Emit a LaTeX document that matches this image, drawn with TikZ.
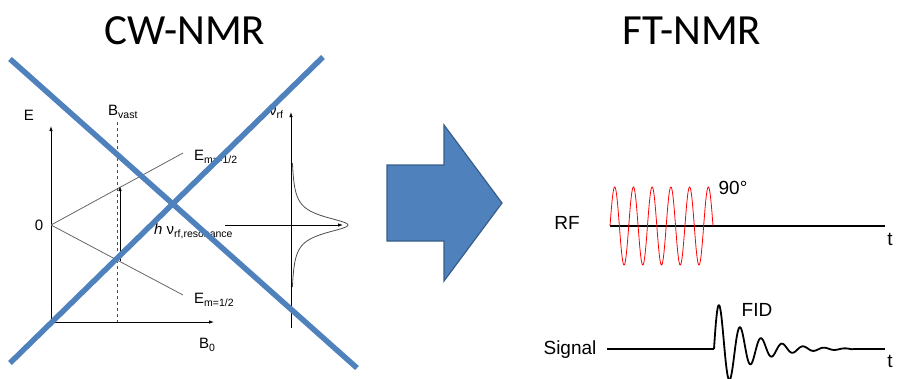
\documentclass[tikz,border=0pt]{standalone}
\usepackage{fontspec}
\setmainfont{Liberation Sans}
\newfontfamily\titlefont{Carlito}
\usetikzlibrary{arrows.meta}
\definecolor{crossblue}{RGB}{79,129,189}
\definecolor{crossedge}{RGB}{56,93,138}
\newcommand{\lowtxt}[1]{\raisebox{-0.35ex}{\fontsize{10.5}{10.5}\selectfont #1}}
\tikzset{
  axis/.style = {black, line width=0.8pt, -{Latex[length=5pt,width=3.5pt]}},
  level/.style = {black!60, line width=0.8pt},
  crossline/.style = {crossblue, line width=5.5pt},
  labl/.style = {inner sep=0pt, font=\fontsize{15}{17}\selectfont},
  pulse/.style = {inner sep=0pt, font=\fontsize{19}{21}\selectfont},
  heading/.style = {inner sep=0pt, font=\titlefont\fontsize{43}{48}\selectfont}
}
\begin{document}
\begin{tikzpicture}[x=1pt, y=-1pt]
\useasboundingbox (0,0) rectangle (897,378);
% titles
\node[heading] (cw) at (185,31) {CW-NMR};
\node[heading] (ft) at (692,31) {FT-NMR};
% CW diagram: axes
\coordinate (O) at (51,322);
\coordinate (Etop) at (51,126);
\coordinate (Bend) at (214,322);
\draw[axis] (O) -- (Etop);
\draw[axis] (O) -- (Bend);
\node[labl] (Elab) at (29,115) {E};
\node[labl, anchor=west] (Blab) at (199,345) {B\lowtxt{0}};
\node[labl] (zero) at (39,225) {0};
% energy levels
\coordinate (split) at (51,225);
\coordinate (up) at (183,153);
\coordinate (down) at (183,295);
\draw[level] (split) -- (up);
\draw[level] (split) -- (down);
\node[labl, anchor=west] (Eup) at (194,157) {E\lowtxt{m=-1/2}};
\node[labl, anchor=west] (Edown) at (194,300) {E\lowtxt{m=1/2}};
% field value
\coordinate (vtop) at (117,122);
\coordinate (vbot) at (117,322);
\draw[black!70, dashed, line width=0.7pt] (vtop) -- (vbot);
\node[labl, anchor=west] (Bvast) at (108,112) {B\lowtxt{vast}};
\coordinate (lowhit) at (120,261);
\coordinate (uphit) at (120,186);
\draw[axis] (lowhit) -- (uphit);
\node[labl, anchor=west] (hnu) at (154,231) {\textit{h} ν\lowtxt{rf,resonance}};
% rf axis with resonance line
\coordinate (fbot) at (291,328);
\coordinate (ftop) at (291,112);
\draw[axis] (fbot) -- (ftop);
\node[labl, anchor=west] (nurf) at (269,113) {ν\lowtxt{rf}};
\coordinate (hin) at (225,225);
\coordinate (hout) at (343,225);
\draw[axis] (hin) -- (hout);
\draw[black!70, line width=0.8pt] plot[domain=-62:62, samples=120, smooth] ({291+57/(1+(\x/10)^2)}, {225+\x});
% crossing out
\coordinate (xa1) at (10,59);
\coordinate (xa2) at (357,368);
\coordinate (xb1) at (10,363);
\coordinate (xb2) at (323,57);
\draw[crossline] (xa1) -- (xa2);
\draw[crossline] (xb1) -- (xb2);
% big arrow
\draw[fill=crossblue, draw=crossedge, line width=1.2pt, line join=miter]
  (387,165) -- (444,165) -- (444,125) -- (502,203) -- (444,281) -- (444,241) -- (387,241) -- cycle;
% FT diagram: pulse
\coordinate (rfstart) at (610,226);
\coordinate (rfend) at (885,226);
\draw[line width=1.8pt] (rfstart) -- (rfend);
\draw[red, line width=0.8pt] plot[domain=0:103, samples=300] ({610+\x}, {226-39*sin(\x/18.73*360)});
\node[pulse] (rf) at (567,223) {RF};
\node[pulse] (deg) at (733,188) {90°};
\node[pulse] (t1) at (890,239) {t};
% FID
\coordinate (sigstart) at (607,349);
\coordinate (fidstart) at (714,349);
\coordinate (fidend) at (853,349);
\coordinate (sigend) at (885,349);
\draw[line width=1.8pt] (sigstart) -- (fidstart);
\draw[line width=1.8pt, line join=round] plot[domain=0:139, samples=300] ({714+\x}, {349-52*exp(-\x/30)*sin(\x/21*360)});
\draw[line width=1.8pt] (fidend) -- (sigend);
\node[pulse] (sig) at (570,350) {Signal};
\node[pulse] (fid) at (757,310) {FID};
\node[pulse] (t2) at (890,361) {t};
\end{tikzpicture}
\end{document}
